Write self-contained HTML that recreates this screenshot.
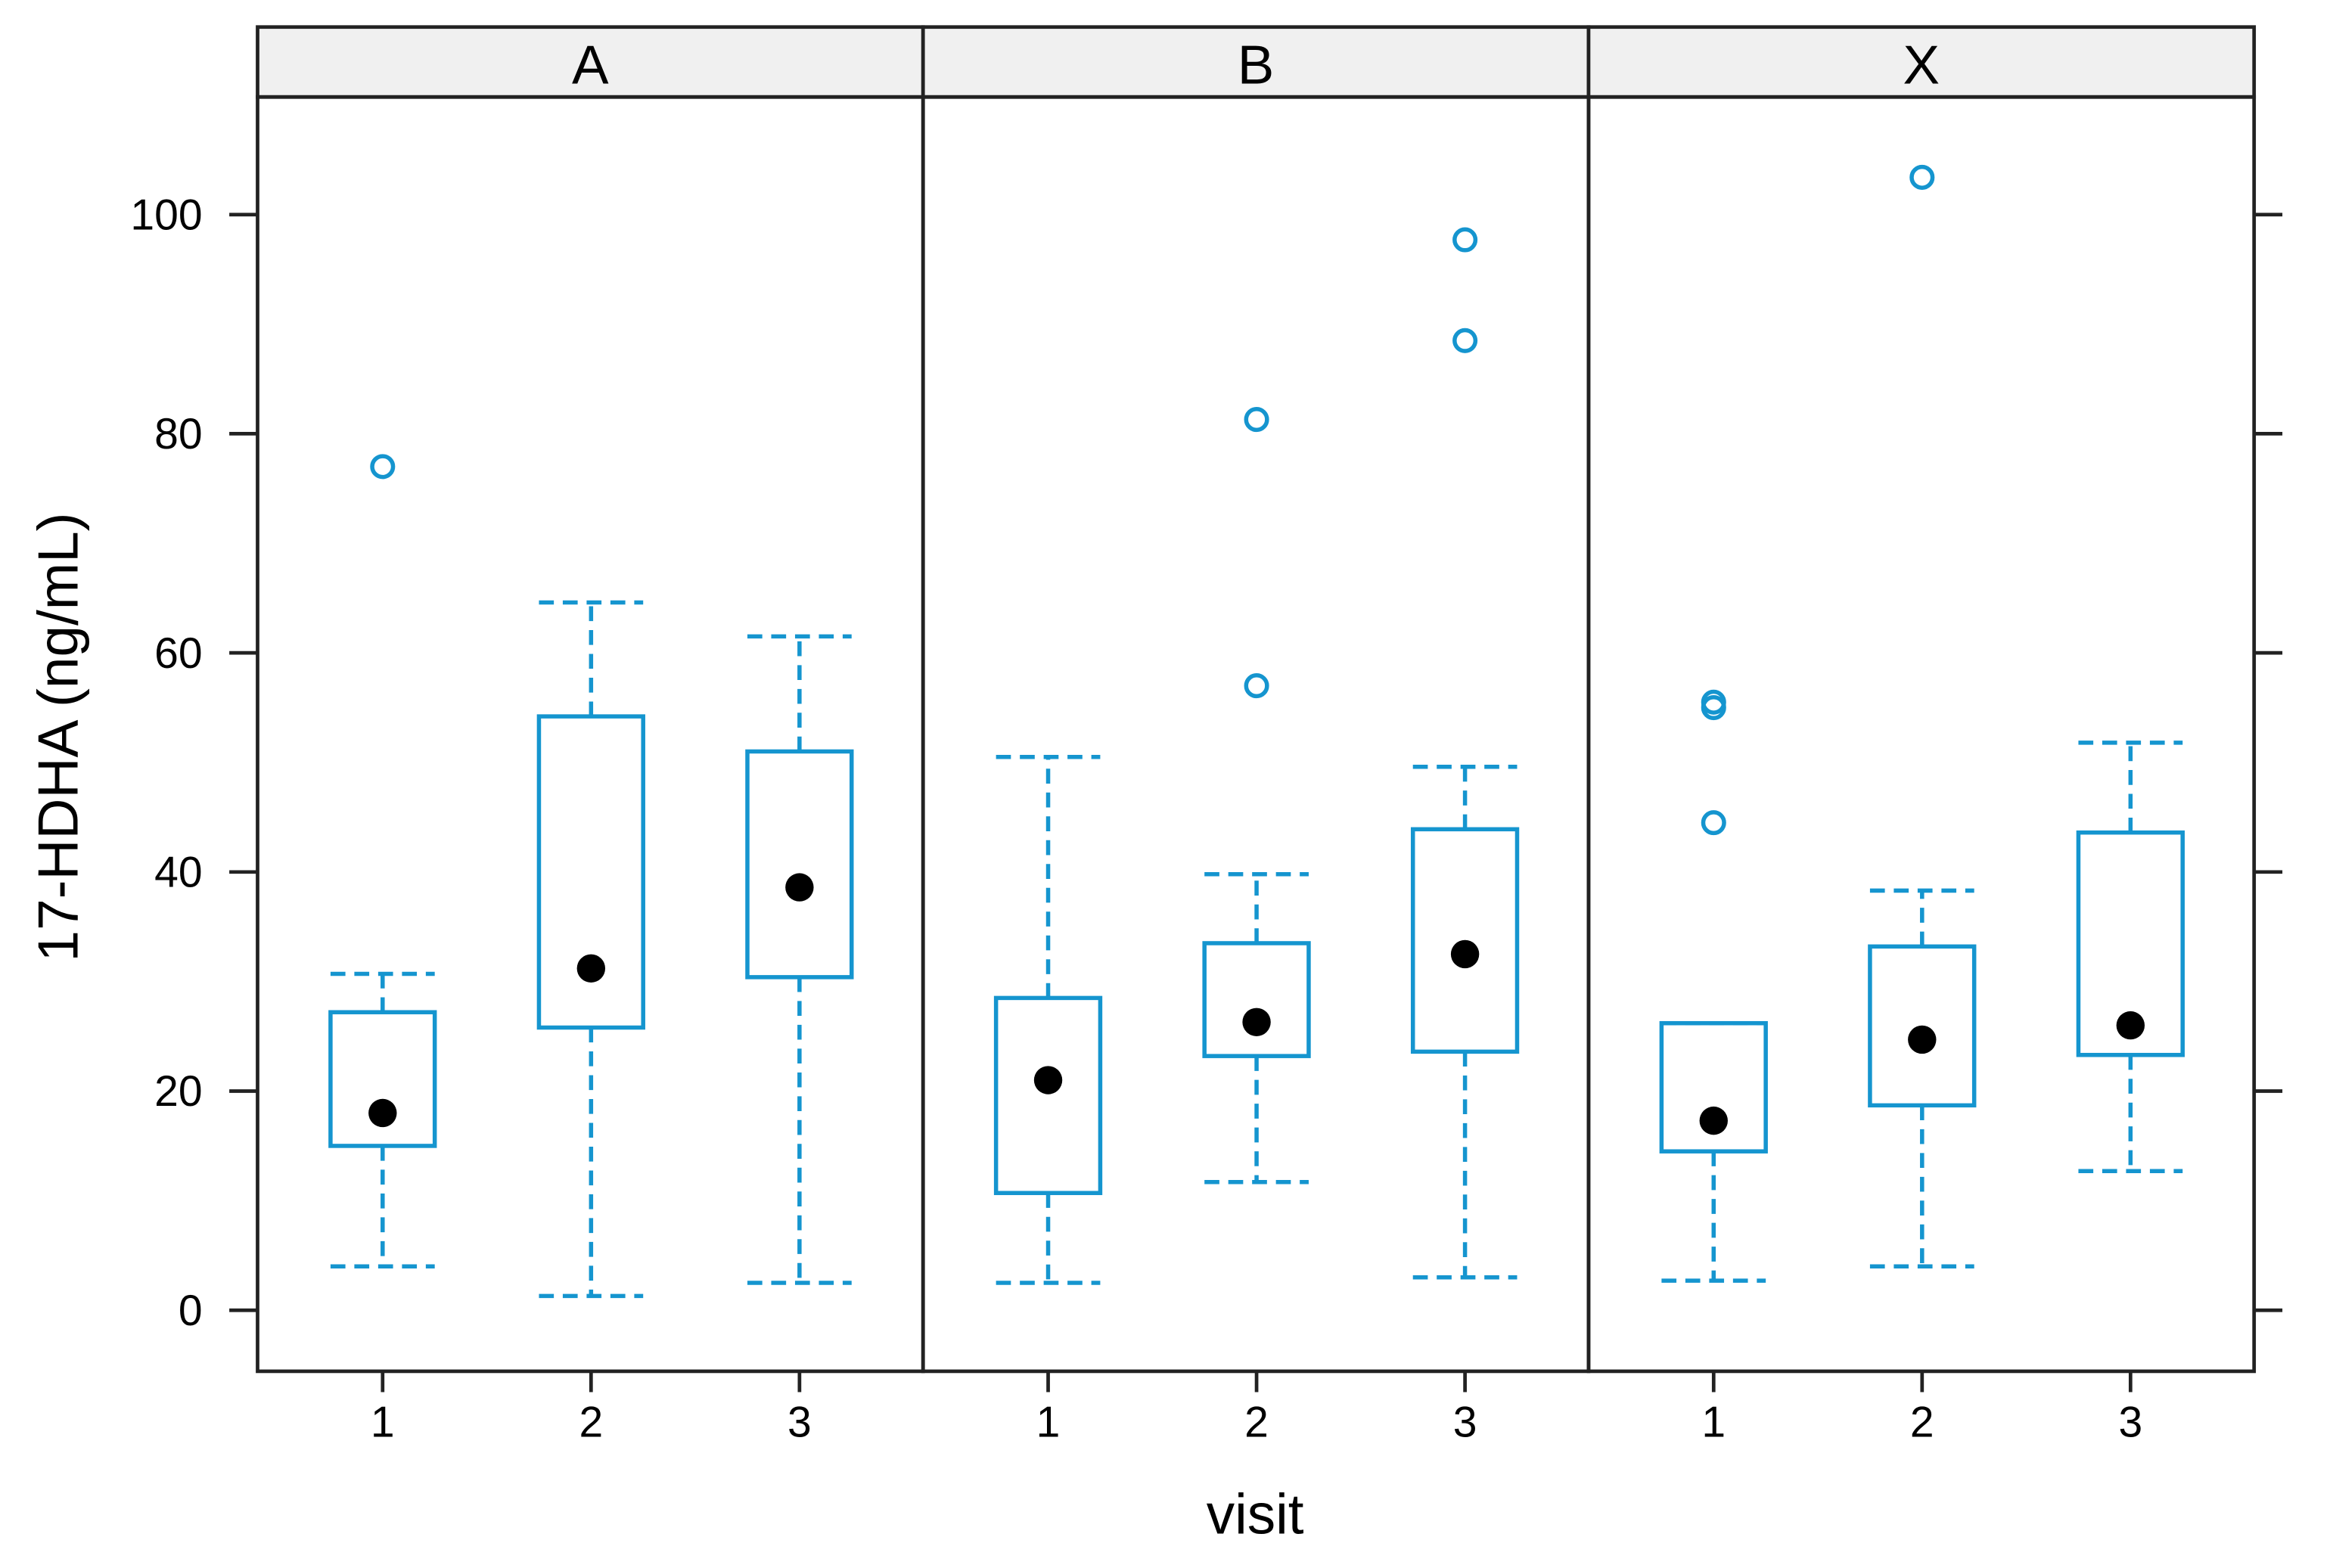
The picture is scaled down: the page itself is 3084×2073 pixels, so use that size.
<!DOCTYPE html>
<html><head><meta charset="utf-8"><style>
html,body{margin:0;padding:0;background:#fff}
svg{display:block;font-family:"Liberation Sans",sans-serif}
</style></head><body>
<svg id="chart" width="3084" height="2073" viewBox="0 0 1567 1053" xmlns="http://www.w3.org/2000/svg">
<g id="g"></g>
</svg>
<script>
const panels = ["A","B","X"];
const visits = ["1","2","3"];
const yTicks = [0,20,40,60,80,100];
const lowerWhisker = [[4,1.3,2.5],[2.5,11.7,3],[2.7,4,12.7]];
const q1 = [[15,25.8,30.4],[10.7,23.2,23.6],[14.5,18.7,23.3]];
const q3 = [[27.2,54.2,51],[28.5,33.5,43.9],[26.2,33.2,43.6]];
const upperWhisker = [[30.7,64.6,61.5],[50.5,39.8,49.6],[26.2,38.3,51.8]];
const medians = [[18,31.2,38.6],[21,26.3,32.5],[17.3,24.7,26]];
const outliers = [[[77],[],[]],[[],[57,81.3],[88.5,97.7]],[[44.5,55,55.5],[103.4],[]]];

const NS="http://www.w3.org/2000/svg";
const g=document.getElementById('g');
const L=173,R=1514,T=18,SB=65,B=921;
const pw=(R-L)/3;
const BLUE="#1595cf";
function y(v){return 880-(880-144)*v/100;}
function x(p,i){return L+p*pw+84+i*140;}
function el(tag,attrs,parent){const e=document.createElementNS(NS,tag);for(const k in attrs)e.setAttribute(k,attrs[k]);(parent||g).appendChild(e);return e;}

panels.forEach((name,p)=>{
  const x0=L+p*pw;
  const s=el('rect',{x:x0,y:T,width:pw,height:SB-T,fill:'#f0f0f0',stroke:'#222','stroke-width':2.4});
  
  
  const t=el('text',{x:x0+pw/2,y:56,'font-size':37,'text-anchor':'middle',fill:'#000'});
  t.textContent=name;
  
  
  const f=el('rect',{x:x0,y:SB,width:pw,height:B-SB,fill:'none',stroke:'#222','stroke-width':2.4});
  
  
  visits.forEach((v,i)=>{
    const xt=el('line',{x1:x(p,i),x2:x(p,i),y1:B,y2:B+14,stroke:'#222','stroke-width':2.4});
    
    
    const lb=el('text',{x:x(p,i),y:965,'font-size':29,'text-anchor':'middle'});
    lb.textContent=v;
    
    
    const cx=x(p,i),hw=35;
    const dash={stroke:BLUE,'stroke-width':2.8,'stroke-dasharray':'10,6',fill:'none'};
    const w1=el('line',Object.assign({x1:cx,x2:cx,y1:y(q3[p][i]),y2:y(upperWhisker[p][i])},dash));
    
    
    const w2=el('line',Object.assign({x1:cx,x2:cx,y1:y(q1[p][i]),y2:y(lowerWhisker[p][i])},dash));
    
    
    const c1=el('line',Object.assign({x1:cx-hw,x2:cx+hw,y1:y(upperWhisker[p][i]),y2:y(upperWhisker[p][i])},dash));
    
    
    const c2=el('line',Object.assign({x1:cx-hw,x2:cx+hw,y1:y(lowerWhisker[p][i]),y2:y(lowerWhisker[p][i])},dash));
    
    
    const bx=el('rect',{x:cx-hw,y:y(q3[p][i]),width:2*hw,height:y(q1[p][i])-y(q3[p][i]),fill:'none',stroke:BLUE,'stroke-width':2.8});
    
    
    const md=el('circle',{cx:cx,cy:y(medians[p][i]),r:9.5,fill:'#000'});
    
    
    outliers[p][i].forEach(o=>{
      const oc=el('circle',{cx:cx,cy:y(o),r:7,fill:'none',stroke:BLUE,'stroke-width':2.8});
      
      
    });
  });
});
yTicks.forEach(v=>{
  const t1=el('line',{x1:154,x2:L,y1:y(v),y2:y(v),stroke:'#222','stroke-width':2.4});
  
  
  const t2=el('line',{x1:R,x2:1533,y1:y(v),y2:y(v),stroke:'#222','stroke-width':2.4});
  
  
  const lb=el('text',{x:136,y:y(v)+10,'font-size':29,'text-anchor':'end'});
  lb.textContent=v;
  
  
});
const yt=el('text',{x:0,y:0,'font-size':38,'text-anchor':'middle',transform:'translate(52,495) rotate(-90)'});
yt.textContent='17-HDHA (ng/mL)';


const xt=el('text',{x:843,y:1030,'font-size':38,'text-anchor':'middle'});
xt.textContent='visit';


</script>
</body></html>
